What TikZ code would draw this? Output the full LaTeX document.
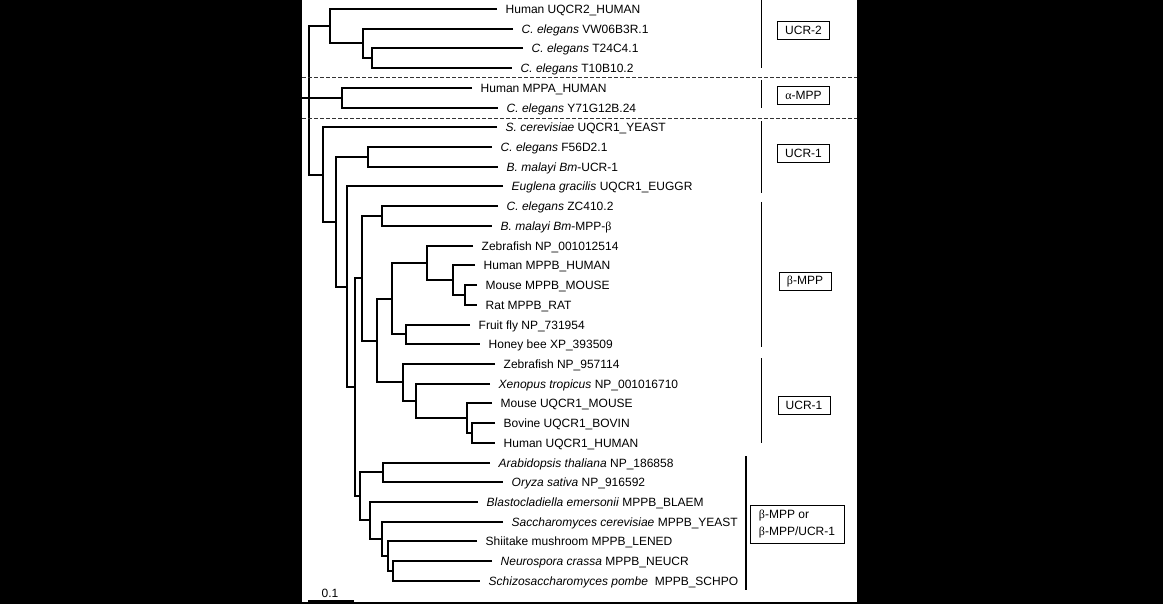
\documentclass[tikz,border=0pt]{standalone}
\usepackage{fontspec}
\setmainfont{Liberation Sans}
\newfontfamily\grk{Liberation Serif}
\usepackage{tikz}
\tikzstyle{leaf} = [anchor=west, inner xsep=8.5pt, inner ysep=0pt, text height=8.6pt, text depth=0pt, font=\fontsize{12}{14}\selectfont]
\tikzstyle{branch} = [line width=2pt, line join=miter]
\tikzstyle{clade} = [draw=black, line width=1pt, minimum width=52pt, minimum height=18pt, inner sep=2pt, font=\fontsize{12}{14}\selectfont]
\tikzstyle{bracket} = [line width=1.3pt]
\tikzstyle{divider} = [line width=1pt, draw=black!80, dash pattern=on 4pt off 2pt]

\begin{document}
\begin{tikzpicture}[x=1pt, y=-1pt]
        \useasboundingbox (0,0) rectangle (1163,604);
        \fill [black] (0,0) rectangle (1163,604);
        \fill [white] (302,0) rectangle (857,601.5);

        % leaves
        \node (l1) [leaf] at (497,9) {Human UQCR2\_HUMAN};
        \node (l2) [leaf] at (513,29) {\textit{C. elegans} VW06B3R.1};
        \node (l3) [leaf] at (523,48) {\textit{C. elegans} T24C4.1};
        \node (l4) [leaf] at (512,68) {\textit{C. elegans} T10B10.2};
        \node (l5) [leaf] at (472,88) {Human MPPA\_HUMAN};
        \node (l6) [leaf] at (498,108) {\textit{C. elegans} Y71G12B.24};
        \node (l7) [leaf] at (497,127) {\textit{S. cerevisiae} UQCR1\_YEAST};
        \node (l8) [leaf] at (492,147) {\textit{C. elegans} F56D2.1};
        \node (l9) [leaf] at (498,167) {\textit{B. malayi Bm}-UCR-1};
        \node (l10) [leaf] at (503,186) {\textit{Euglena gracilis} UQCR1\_EUGGR};
        \node (l11) [leaf] at (498,206) {\textit{C. elegans} ZC410.2};
        \node (l12) [leaf] at (492,226) {\textit{B. malayi Bm}-MPP-{\grk β}};
        \node (l13) [leaf] at (473,246) {Zebrafish NP\_001012514};
        \node (l14) [leaf] at (475,265) {Human MPPB\_HUMAN};
        \node (l15) [leaf] at (477,285) {Mouse MPPB\_MOUSE};
        \node (l16) [leaf] at (477,305) {Rat MPPB\_RAT};
        \node (l17) [leaf] at (470,325) {Fruit fly NP\_731954};
        \node (l18) [leaf] at (480,344) {Honey bee XP\_393509};
        \node (l19) [leaf] at (495,364) {Zebrafish NP\_957114};
        \node (l20) [leaf] at (490,384) {\textit{Xenopus tropicus} NP\_001016710};
        \node (l21) [leaf] at (492,403) {Mouse UQCR1\_MOUSE};
        \node (l22) [leaf] at (495,423) {Bovine UQCR1\_BOVIN};
        \node (l23) [leaf] at (495,443) {Human UQCR1\_HUMAN};
        \node (l24) [leaf] at (490,463) {\textit{Arabidopsis thaliana} NP\_186858};
        \node (l25) [leaf] at (503,482) {\textit{Oryza sativa} NP\_916592};
        \node (l26) [leaf] at (478,502) {\textit{Blastocladiella emersonii} MPPB\_BLAEM};
        \node (l27) [leaf] at (503,522) {\textit{Saccharomyces cerevisiae} MPPB\_YEAST};
        \node (l28) [leaf] at (477,541) {Shiitake mushroom MPPB\_LENED};
        \node (l29) [leaf] at (492,561) {\textit{Neurospora crassa} MPPB\_NEUCR};
        \node (l30) [leaf] at (480,581) {\textit{Schizosaccharomyces pombe}\ \ MPPB\_SCHPO};

        % internal nodes
        \coordinate (stem) at (302,98);
        \coordinate (root) at (309,98);
        \coordinate (A) at (330,26);
        \coordinate (B) at (363,43);
        \coordinate (C) at (372,58);
        \coordinate (Ma) at (342,98);
        \coordinate (D) at (323,175);
        \coordinate (E) at (336,222);
        \coordinate (F) at (368,157);
        \coordinate (G) at (347,287);
        \coordinate (H) at (355,387);
        \coordinate (J) at (362,278);
        \coordinate (I) at (382,216);
        \coordinate (K) at (377,341);
        \coordinate (M) at (392,299);
        \coordinate (O) at (427,263);
        \coordinate (P) at (453,280);
        \coordinate (Q) at (465,295);
        \coordinate (R) at (406,334);
        \coordinate (N) at (403,382);
        \coordinate (S) at (416,401);
        \coordinate (T) at (467,418);
        \coordinate (U) at (472,433);
        \coordinate (L) at (360,496);
        \coordinate (V) at (383,472);
        \coordinate (W) at (370,520);
        \coordinate (X) at (382,539);
        \coordinate (Y) at (388,556);
        \coordinate (Z) at (393,571);

        % branches
        \draw [branch] (stem) -- (Ma);
        \draw [branch] (A) -| (root) |- (D);
        \draw [branch] (l1.west) -| (A) |- (B);
        \draw [branch] (l2.west) -| (B) |- (C);
        \draw [branch] (l3.west) -| (C) |- (l4.west);
        \draw [branch] (l5.west) -| (Ma) |- (l6.west);
        \draw [branch] (l7.west) -| (D) |- (E);
        \draw [branch] (F) -| (E) |- (G);
        \draw [branch] (l8.west) -| (F) |- (l9.west);
        \draw [branch] (l10.west) -| (G) |- (H);
        \draw [branch] (J) -| (H) |- (L);
        \draw [branch] (I) -| (J) |- (K);
        \draw [branch] (l11.west) -| (I) |- (l12.west);
        \draw [branch] (M) -| (K) |- (N);
        \draw [branch] (O) -| (M) |- (R);
        \draw [branch] (l13.west) -| (O) |- (P);
        \draw [branch] (l14.west) -| (P) |- (Q);
        \draw [branch] (l15.west) -| (Q) |- (l16.west);
        \draw [branch] (l17.west) -| (R) |- (l18.west);
        \draw [branch] (l19.west) -| (N) |- (S);
        \draw [branch] (l20.west) -| (S) |- (T);
        \draw [branch] (l21.west) -| (T) |- (U);
        \draw [branch] (l22.west) -| (U) |- (l23.west);
        \draw [branch] (V) -| (L) |- (W);
        \draw [branch] (l24.west) -| (V) |- (l25.west);
        \draw [branch] (l26.west) -| (W) |- (X);
        \draw [branch] (l27.west) -| (X) |- (Y);
        \draw [branch] (l28.west) -| (Y) |- (Z);
        \draw [branch] (l29.west) -| (Z) |- (l30.west);

        % group dividers
        \draw [divider] (302,77.5) -- (857,77.5);
        \draw [divider] (302,118.5) -- (857,118.5);

        % group brackets and labels
        \draw [bracket] (761.7,0) -- (761.7,68.5);
        \draw [bracket] (761.7,80) -- (761.7,108.5);
        \draw [bracket] (761.7,121.5) -- (761.7,193);
        \draw [bracket] (761.7,202) -- (761.7,347);
        \draw [bracket] (761.7,358) -- (761.7,443);
        \draw [bracket] (746,456) -- (746,590);
        \node (ucr2) [clade] at (803.5,30.5) {UCR-2};
        \node (ampp) [clade] at (803.5,95.5) {{\grk α}-MPP};
        \node (ucr1a) [clade] at (803.5,153.5) {UCR-1};
        \node (bmpp) [clade] at (805,281.3) {{\grk β}-MPP};
        \node (ucr1b) [clade] at (804,405) {UCR-1};
        \node (mixed) [clade, align=left, minimum width=94pt, minimum height=38pt, font=\fontsize{12}{16.7}\selectfont] at (797,524) {{\grk β}-MPP or\\{\grk β}-MPP/UCR-1};

        % scale bar
        \node (scale) [font=\fontsize{12}{14}\selectfont, inner sep=0pt] at (330,593.5) {0.1};
        \coordinate (sb1) at (308,601);
        \coordinate (sb2) at (354,601);
        \draw [branch] (sb1) -- (sb2);
    \end{tikzpicture}
\end{document}
